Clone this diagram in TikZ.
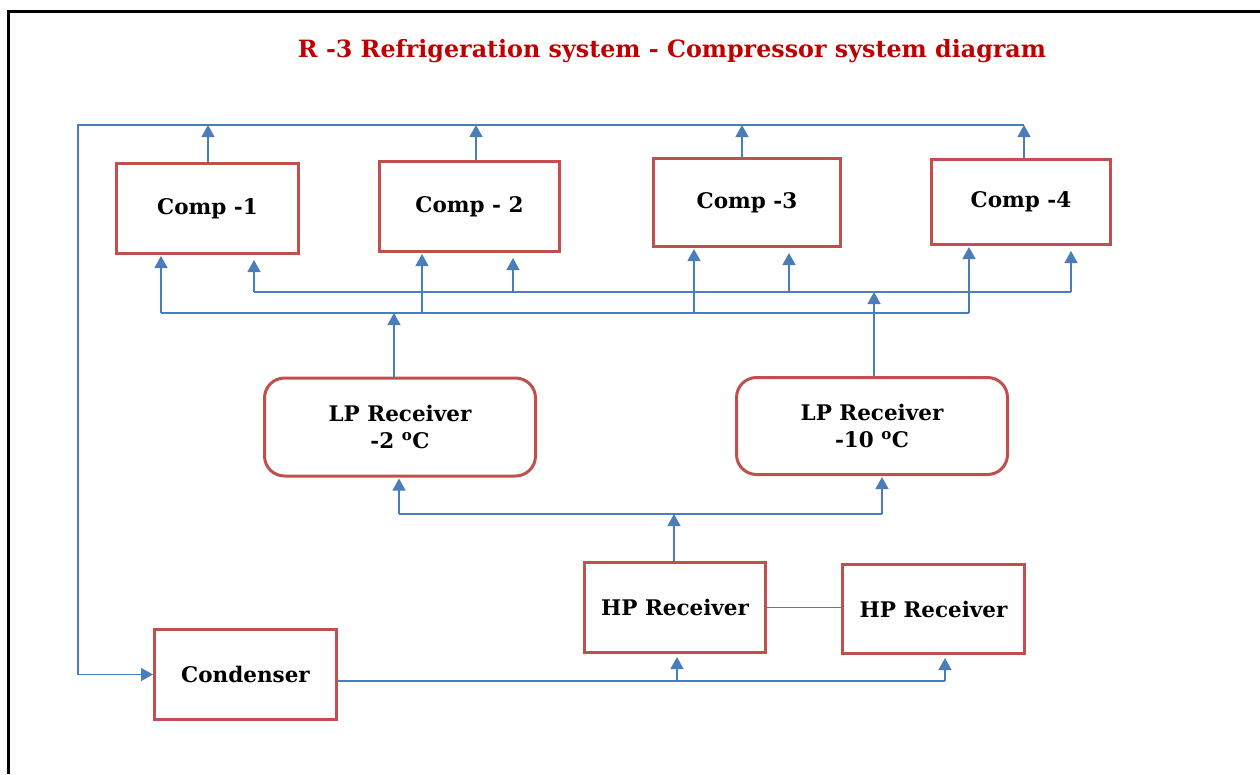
\documentclass[tikz,border=0pt]{standalone}
\usepackage{fontspec}
\setmainfont{DejaVu Serif}
\usetikzlibrary{arrows.meta}
\definecolor{pipeblue}{RGB}{74,126,187}
\definecolor{boxred}{RGB}{192,80,77}
\definecolor{titlered}{RGB}{192,0,0}
\tikzset{
  unit/.style={draw=boxred, line width=3pt, fill=white, align=center,
    font=\fontsize{21.5}{27}\selectfont\bfseries, inner sep=0pt},
  recv/.style={unit, rounded corners=20pt},
  pipe/.style={draw=pipeblue, line width=1.3pt},
  arr/.style={pipe, -{Triangle[width=13pt,length=12pt]}},
  gaparr/.style={arr, shorten >=5pt},
  frame/.style={draw=black, line width=3pt},
}
\begin{document}
\begin{tikzpicture}[x=1pt,y=-1pt]
\useasboundingbox (0,0) rectangle (1260,774);
% page frame
\draw[frame] (8,774) -- (8,11) -- (1260,11);

% title
\node[anchor=base, text=titlered, font=\fontsize{23.8}{28}\selectfont\bfseries] (title) at (672,57)
  {R -3 Refrigeration system - Compressor system diagram};

% compressors
\node[unit, minimum width=182pt, minimum height=90pt] (c1) at (207.5,208.5) {Comp -1};
\node[unit, minimum width=180pt, minimum height=90pt] (c2) at (469.5,206.5) {Comp - 2};
\node[unit, minimum width=187pt, minimum height=88pt] (c3) at (747,202.5) {Comp -3};
\node[unit, minimum width=179pt, minimum height=85pt] (c4) at (1021,202) {Comp -4};

% LP receivers
\node[recv, minimum width=271pt, minimum height=98pt] (lp1) at (400,427) {LP Receiver\\-2 \textsuperscript{o}C};
\node[recv, minimum width=271pt, minimum height=97pt] (lp2) at (872,426) {LP Receiver\\-10 \textsuperscript{o}C};

% HP receivers and condenser
\node[unit, minimum width=181pt, minimum height=90pt] (hp1) at (675,607.5) {HP Receiver};
\node[unit, minimum width=182pt, minimum height=89pt] (hp2) at (933.5,609) {HP Receiver};
\node[unit, minimum width=182pt, minimum height=90pt] (cond) at (245.5,674.5) {Condenser};

% discharge header
\coordinate (t1) at (208,125);
\coordinate (t2) at (476,125);
\coordinate (t3) at (742,125);
\coordinate (t4) at (1024,125);
\coordinate (tl) at (78,125);
\draw[arr] (t4) -- (tl) |- (cond.west);
\draw[arr] (t1 |- c1.north) -- (t1);
\draw[arr] (t2 |- c2.north) -- (t2);
\draw[arr] (t3 |- c3.north) -- (t3);
\draw[arr] (t4 |- c4.north) -- (t4);

% suction header from LP receiver -2
\coordinate (a1) at (161,313);
\coordinate (a2) at (422,313);
\coordinate (a3) at (694,313);
\coordinate (a4) at (969,313);
\coordinate (a5) at (394,313);
\draw[pipe] (a1) -- (a4);
\draw[arr, shorten >=1pt] (a1) -- (a1 |- c1.south);
\draw[arr, shorten >=1pt] (a2) -- (a2 |- c2.south);
\draw[arr, shorten >=1pt] (a3) -- (a3 |- c3.south);
\draw[arr, shorten >=1pt] (a4) -- (a4 |- c4.south);
\draw[arr] (a5 |- lp1.north) -- (a5);

% suction header from LP receiver -10
\coordinate (b1) at (254,292);
\coordinate (b2) at (513,292);
\coordinate (b3) at (789,292);
\coordinate (b4) at (1071,292);
\coordinate (b5) at (874,292);
\draw[pipe] (b1) -- (b4);
\draw[gaparr] (b1) -- (b1 |- c1.south);
\draw[gaparr] (b2) -- (b2 |- c2.south);
\draw[gaparr] (b3) -- (b3 |- c3.south);
\draw[gaparr] (b4) -- (b4 |- c4.south);
\draw[arr] (b5 |- lp2.north) -- (b5);

% HP receiver to LP receivers
\coordinate (h1) at (399,514);
\coordinate (h2) at (882,514);
\coordinate (h3) at (674,514);
\draw[pipe] (h1) -- (h2);
\draw[arr, shorten >=1pt] (h1) -- (h1 |- lp1.south);
\draw[arr, shorten >=1pt] (h2) -- (h2 |- lp2.south);
\draw[arr] (hp1.north -| h3) -- (h3);

% HP receiver balance line
\draw[pipe] (hp1.east) -- (hp1.east -| hp2.west);

% condenser to HP receivers
\coordinate (k1) at (677,681);
\coordinate (k2) at (945,681);
\draw[pipe] (cond.east |- k1) -- (k2);
\draw[arr, shorten >=3pt] (k1) -- (k1 |- hp1.south);
\draw[arr, shorten >=3pt] (k2) -- (k2 |- hp2.south);
\end{tikzpicture}
\end{document}
